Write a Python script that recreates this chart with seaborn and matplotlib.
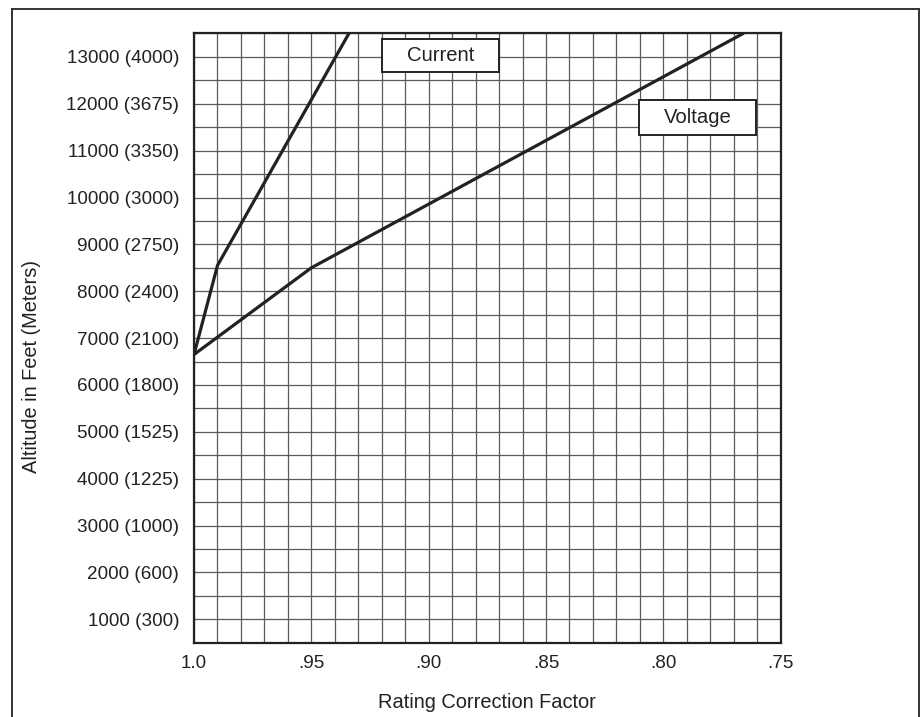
import numpy as np
import pandas as pd
import matplotlib
matplotlib.use("Agg")
import matplotlib.pyplot as plt
from matplotlib.patches import Rectangle
import seaborn as sns

# values
current_factor = [1.0, 0.99, 0.934]
current_alt = [6650, 8550, 13500]
voltage_factor = [1.0, 0.95, 0.766]
voltage_alt = [6650, 8500, 13500]

x_ticks = [1.0, 0.95, 0.90, 0.85, 0.80, 0.75]
x_tick_labels = ["1.0", ".95", ".90", ".85", ".80", ".75"]
y_ticks = [1000, 2000, 3000, 4000, 5000, 6000, 7000, 8000, 9000, 10000, 11000, 12000, 13000]
y_tick_labels = ["1000 (300)", "2000 (600)", "3000 (1000)", "4000 (1225)", "5000 (1525)",
                 "6000 (1800)", "7000 (2100)", "8000 (2400)", "9000 (2750)", "10000 (3000)",
                 "11000 (3350)", "12000 (3675)", "13000 (4000)"]

sns.set_style("white")
plt.rcParams["font.family"] = ["Liberation Sans", "DejaVu Sans"]

ink = "#222222"
grid_col = "#5a5a5a"

fig = plt.figure(figsize=(9.23, 7.17), dpi=100)
ax = fig.add_axes([0.2102, 0.1036, 0.6356, 0.8497])

cur = pd.DataFrame({"factor": current_factor, "alt": current_alt})
vol = pd.DataFrame({"factor": voltage_factor, "alt": voltage_alt})
sns.lineplot(data=cur, x="factor", y="alt", sort=False, estimator=None,
             color=ink, lw=2.3, ax=ax, zorder=4)
sns.lineplot(data=vol, x="factor", y="alt", sort=False, estimator=None,
             color=ink, lw=2.3, ax=ax, zorder=4)

ax.set_xlim(1.0, 0.75)
ax.set_ylim(500, 13500)

ax.set_xticks(x_ticks)
ax.set_xticklabels(x_tick_labels)
ax.set_xticks(np.arange(0.75, 1.0001, 0.01), minor=True)
ax.set_yticks(y_ticks)
ax.set_yticklabels(y_tick_labels)
ax.set_yticks(np.arange(500, 13501, 500), minor=True)

ax.grid(True, which="both", color=grid_col, lw=0.9)
ax.set_axisbelow(True)

ax.tick_params(axis="x", which="both", length=0, pad=9, labelsize=13.6, labelcolor=ink)
ax.tick_params(axis="y", which="major", length=7.2, width=0.9, color=grid_col,
               pad=3.5, labelsize=13.6, labelcolor=ink)
ax.tick_params(axis="y", which="minor", length=0)

for s in ax.spines.values():
    s.set_visible(True)
    s.set_color(ink)
    s.set_linewidth(1.6)

ax.set_xlabel("Rating Correction Factor", fontsize=14.4, color=ink)
ax.set_ylabel("Altitude in Feet (Meters)", fontsize=14.4, color=ink)
ax.xaxis.set_label_coords(0.5, -0.082)
ax.yaxis.set_label_coords(-0.26, 0.4526)

# label boxes
for (x0, x1, y0, y1, txt) in [(0.92, 0.870, 12670, 13380, "Current"),
                              (0.8105, 0.7605, 11330, 12090, "Voltage")]:
    ax.add_patch(Rectangle((x1, y0), x0 - x1, y1 - y0, facecolor="white",
                           edgecolor=ink, lw=1.4, zorder=5))
    ax.text((x0 + x1) / 2, (y0 + y1) / 2, txt, ha="center", va="center",
            fontsize=14.6, color=ink, zorder=6)

# outer frame
fig.add_artist(Rectangle((12 / 923, -0.02), (919.3 - 12) / 923, 1.02 - 9.3 / 717,
                         transform=fig.transFigure, fill=False, edgecolor="#333333",
                         lw=1.4, clip_on=False))

fig.savefig("out.png", dpi=100, facecolor="white")
